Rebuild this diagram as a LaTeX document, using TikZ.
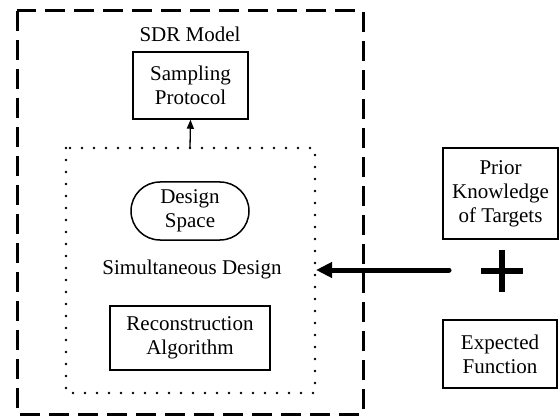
\documentclass[tikz,border=0pt]{standalone}
\usepackage{fontspec}
\setmainfont{Liberation Serif}
\usetikzlibrary{arrows.meta,shapes.misc,calc}
\begin{document}
\begin{tikzpicture}[x=1pt,y=-1pt,
  txt/.style={font=\fontsize{21}{24}\selectfont, align=center, inner sep=0pt},
  boxnode/.style={draw, line width=1.5pt, txt},
]
\useasboundingbox (0,0) rectangle (560,417);
% outer dashed box
\draw[line width=3pt, dash pattern=on 20pt off 9pt] (17,11) rectangle (363,414);
\node[txt] (sdr) at (190,34) {SDR Model};
% sampling protocol
\node[boxnode, minimum width=115pt, minimum height=67pt] (samp) at (190.5,85.5) {Sampling\\Protocol};
% dotted box
\draw[line width=2.8pt, dash pattern=on 0pt off 12pt, line cap=round] (66,148) rectangle (315,393);
\coordinate (dtop) at (190,148);
\coordinate (dright) at (316,270);
\draw[line width=1.3pt, -{Triangle[length=9pt,width=7pt]}] (dtop) -- (samp.south);
% design space
\node[draw, line width=1.5pt, rounded rectangle, txt, minimum width=118pt, minimum height=58pt] (ds) at (190,211) {Design\\Space};
\node[txt] (sim) at (192,269) {Simultaneous Design};
\node[boxnode, minimum width=160pt, minimum height=64pt] (rec) at (190,338) {Reconstruction\\Algorithm};
% right side
\node[boxnode, minimum width=115pt, minimum height=91pt] (prior) at (500.5,193.5) {Prior\\Knowledge\\of Targets};
\node[boxnode, minimum width=114pt, minimum height=68pt] (exp) at (500,354) {Expected\\Function};
\coordinate (astart) at (449,270);
\draw[line width=5pt, line cap=round, -{Triangle[length=16pt,width=15pt]}] (astart) -- (dright);
% plus
\coordinate (pc) at (502,271);
\draw[line width=5.5pt] ($(pc)+(-21,0)$) -- ($(pc)+(21,0)$);
\draw[line width=5.5pt] ($(pc)+(0,-21)$) -- ($(pc)+(0,21)$);
\end{tikzpicture}
\end{document}
